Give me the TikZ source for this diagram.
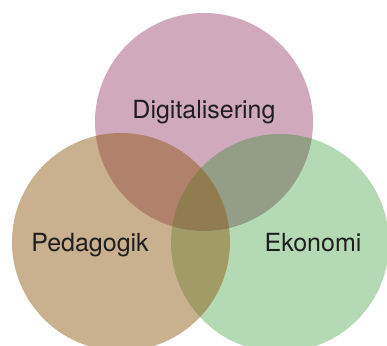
\documentclass[tikz,border=0pt]{standalone}
\usepackage{fontspec}
\setmainfont{TeX Gyre Heros}
\usetikzlibrary{positioning}

\definecolor{digicol}{RGB}{209,169,188}
\definecolor{ekocol}{RGB}{8,132,8}
\definecolor{pedacol}{RGB}{140,87,17}
\definecolor{textcol}{RGB}{30,30,30}

\tikzset{
  venn/.style={circle, minimum size=218pt, inner sep=0pt},
  lbl/.style={anchor=base, text=textcol, font=\fontsize{25}{30}\selectfont}
}

\begin{document}
\begin{tikzpicture}[x=1pt, y=1pt]
    \useasboundingbox (0,0) rectangle (387,345);
    \clip (0,0) rectangle (387,345);
    % Circles
    \node[venn, fill=digicol] (digi) at (204,223) {};
    \node[venn, fill=ekocol, fill opacity=0.3] (eko) at (280,102) {};
    \node[venn, fill=pedacol, fill opacity=0.47] (peda) at (121,103) {};

    % Labels
    \node[lbl] (digitxt) at (204,226) {Digitalisering};
    \node[lbl] (pedatxt) at (90,94) {Pedagogik};
    \node[lbl] (ekotxt) at (313,94) {Ekonomi};
\end{tikzpicture}
\end{document}
